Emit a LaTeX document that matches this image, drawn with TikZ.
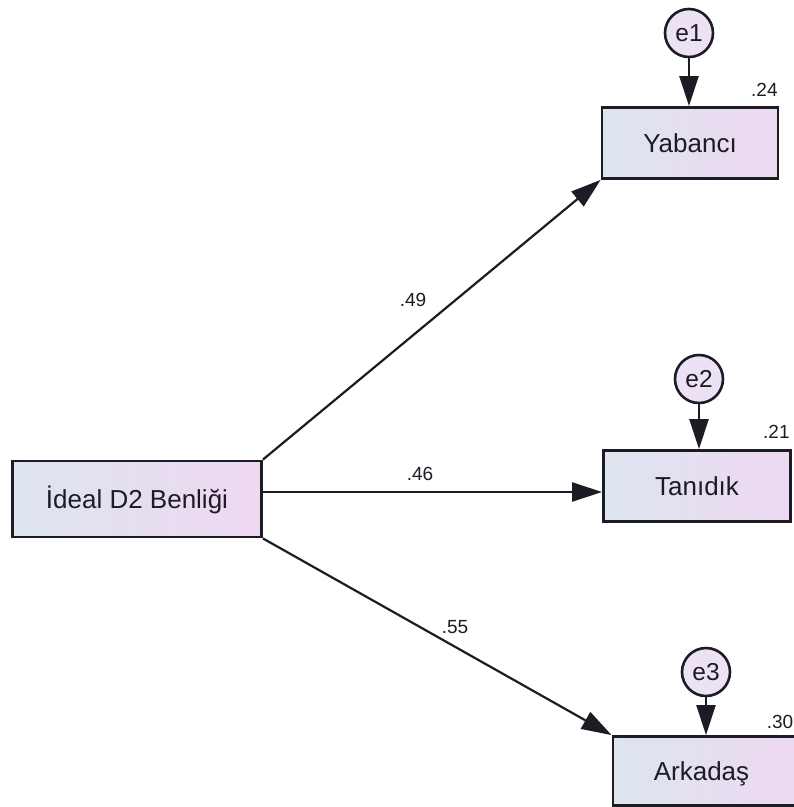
\documentclass[tikz,border=0pt]{standalone}
\usepackage{fontspec}
\setmainfont{Liberation Sans}
\usetikzlibrary{arrows.meta}
\definecolor{boxL}{RGB}{221,229,238}
\definecolor{boxR}{RGB}{238,216,242}
\definecolor{errfill}{RGB}{237,226,245}
\definecolor{ink}{RGB}{28,28,36}
\tikzset{
  varbox/.style={rectangle, draw=ink, line width=2.8pt, left color=boxL, right color=boxR,
    inner sep=0pt, text=ink, font=\fontsize{26}{26}\selectfont, text height=18.6pt, text depth=0pt},
  errnode/.style={circle, draw=ink, line width=2.6pt, fill=errfill, minimum size=48pt,
    inner sep=0pt, text=ink, font=\fontsize{24.5}{24.5}\selectfont, text height=17.5pt, text depth=0pt},
  pathline/.style={draw=ink, line width=2.2pt, -{Triangle[length=30pt,width=19pt]}},
  coef/.style={text=ink, font=\fontsize{19}{19}\selectfont, inner sep=0pt}
}
\begin{document}
\begin{tikzpicture}[x=1pt,y=-1pt]
\useasboundingbox (0,0) rectangle (794,807);
\fill[white] (0,0) rectangle (794,807);
% observed variables
\node[varbox, minimum width=249pt, minimum height=76pt] (ideal) at (137,499) {İdeal D2 Benliği};
\node[varbox, minimum width=176pt, minimum height=71pt] (yab) at (690,143) {Yabancı};
\node[varbox, minimum width=187pt, minimum height=71pt] (tan) at (697,486) {Tanıdık};
\node[varbox, minimum width=197pt, minimum height=69pt] (ark) at (711.5,771) {Arkadaş\hspace*{20pt}};
% error terms
\node[errnode] (e1) at (689,33) {e1};
\node[errnode] (e2) at (699,379) {e2};
\node[errnode] (e3) at (706,672) {e3};
% paths
\draw[pathline] (ideal.north east) -- (yab.south west);
\draw[pathline] ([yshift=7pt]ideal.east) -- ([yshift=-6pt]tan.west);
\draw[pathline] (ideal.south east) -- (ark.north west);
\draw[pathline] (e1) -- (e1 |- yab.north);
\draw[pathline] (e2) -- (e2 |- tan.north);
\draw[pathline] (e3) -- (e3 |- ark.north);
% coefficients
\node[coef] (c1) at (413,300) {.49};
\node[coef] (c2) at (420,474) {.46};
\node[coef] (c3) at (455,627) {.55};
% squared multiple correlations
\node[coef, anchor=west] (r1) at (751,90) {.24};
\node[coef, anchor=west] (r2) at (763,432) {.21};
\node[coef, anchor=east] (r3) at (793.5,722) {.30};
\end{tikzpicture}
\end{document}
